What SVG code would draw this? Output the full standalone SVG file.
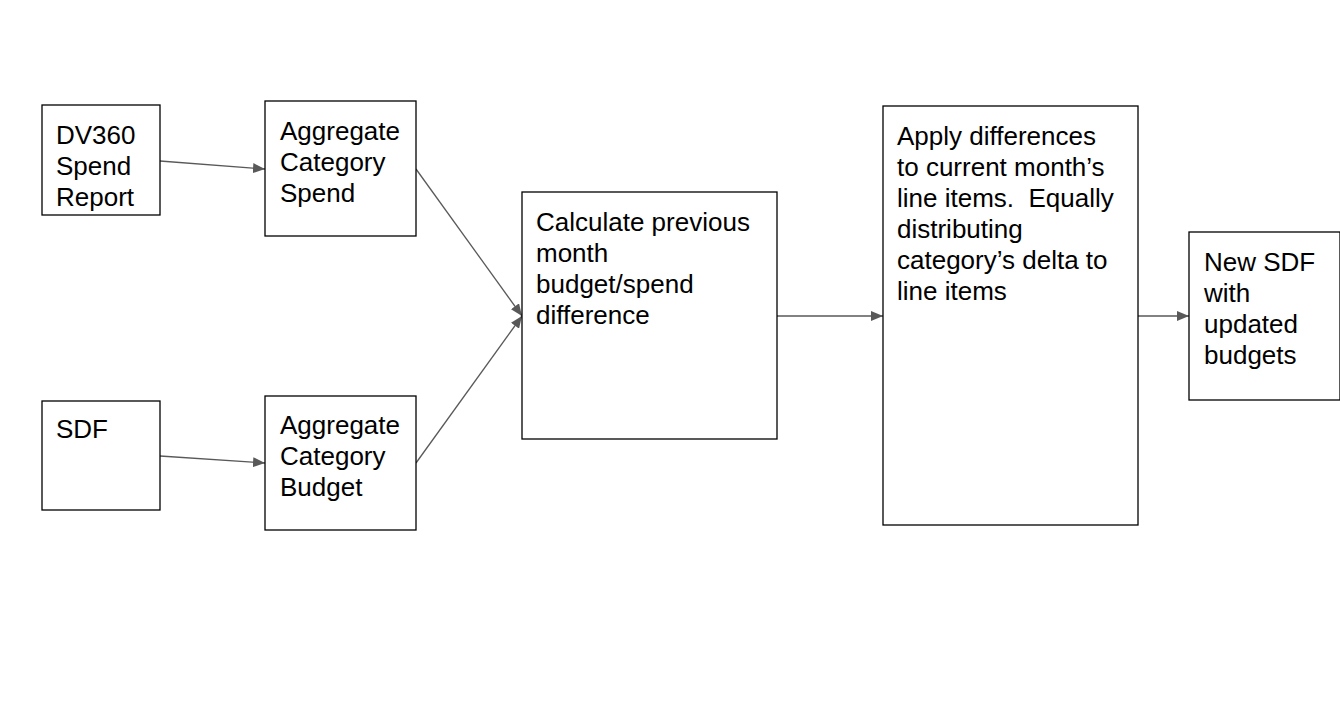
<svg xmlns="http://www.w3.org/2000/svg" width="1340" height="710" viewBox="0 0 1340 710">
<style>
.box{fill:#ffffff;stroke:#000000;stroke-width:1.3}
.t{font-family:"Liberation Sans",Arial,sans-serif;font-size:26px;fill:#000000}
.c{stroke:#595959;stroke-width:1.3;fill:none;marker-end:url(#ah)}
</style>
<defs>
<marker id="ah" markerWidth="12" markerHeight="10" refX="12" refY="5" orient="auto" markerUnits="userSpaceOnUse">
<path d="M0,0 L12,5 L0,10 Z" fill="#595959"/>
</marker>
</defs>
<rect width="1340" height="710" fill="#ffffff"/>
<g id="connectors">
<line class="c" x1="160" y1="161" x2="265" y2="169"/>
<line class="c" x1="160" y1="456" x2="265" y2="463"/>
<line class="c" x1="416" y1="169" x2="522" y2="316"/>
<line class="c" x1="416" y1="463" x2="522" y2="316"/>
<line class="c" x1="777" y1="316" x2="883" y2="316"/>
<line class="c" x1="1138" y1="316" x2="1189" y2="316"/>
</g>
<g id="dv360">
<rect class="box" x="42" y="105" width="118" height="110"/>
<text class="t" x="56" y="144">DV360</text>
<text class="t" x="56" y="175">Spend</text>
<text class="t" x="56" y="206">Report</text>
</g>
<g id="aggSpend">
<rect class="box" x="265" y="101" width="151" height="135"/>
<text class="t" x="280" y="140">Aggregate</text>
<text class="t" x="280" y="171">Category</text>
<text class="t" x="280" y="202">Spend</text>
</g>
<g id="sdf">
<rect class="box" x="42" y="401" width="118" height="109"/>
<text class="t" x="56" y="438">SDF</text>
</g>
<g id="aggBudget">
<rect class="box" x="265" y="396" width="151" height="134"/>
<text class="t" x="280" y="433.5">Aggregate</text>
<text class="t" x="280" y="464.5">Category</text>
<text class="t" x="280" y="495.5">Budget</text>
</g>
<g id="calculate">
<rect class="box" x="522" y="192" width="255" height="247"/>
<text class="t" x="536" y="230.5">Calculate previous</text>
<text class="t" x="536" y="261.5">month</text>
<text class="t" x="536" y="292.5">budget/spend</text>
<text class="t" x="536" y="323.5">difference</text>
</g>
<g id="apply">
<rect class="box" x="883" y="106" width="255" height="419"/>
<text class="t" x="897" y="144.5">Apply differences</text>
<text class="t" x="897" y="175.5">to current month’s</text>
<text class="t" x="897" y="206.5" xml:space="preserve">line items.  Equally</text>
<text class="t" x="897" y="237.5">distributing</text>
<text class="t" x="897" y="268.5">category’s delta to</text>
<text class="t" x="897" y="299.5">line items</text>
</g>
<g id="newSdf">
<rect class="box" x="1189" y="232" width="151" height="168"/>
<text class="t" x="1204" y="271">New SDF</text>
<text class="t" x="1204" y="302">with</text>
<text class="t" x="1204" y="333">updated</text>
<text class="t" x="1204" y="364">budgets</text>
</g>
</svg>
